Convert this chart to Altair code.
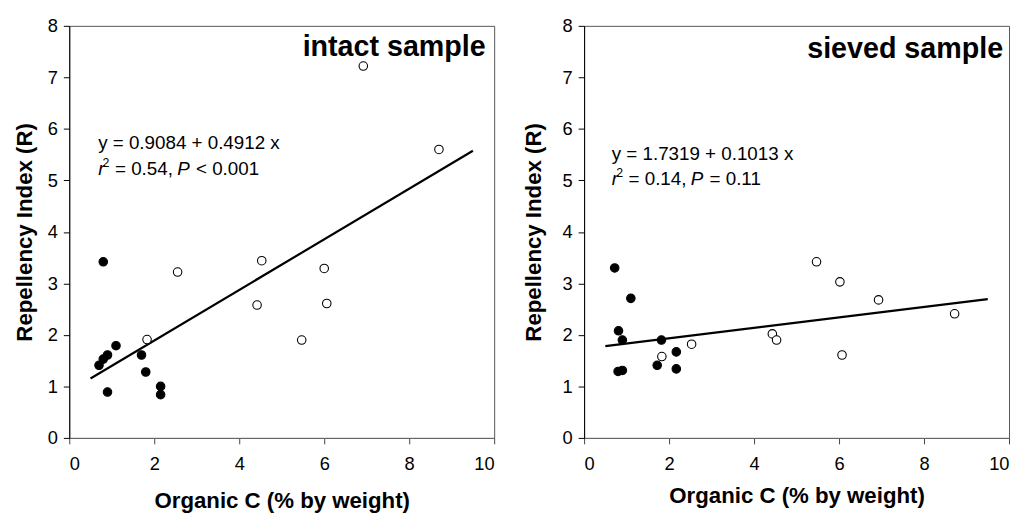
import altair as alt
import pandas as pd

# ---- data ----
left_open_x = [2.55, 4.53, 6.00, 4.42, 6.06, 5.47, 1.83, 6.92, 8.70]
left_open_y = [3.22, 3.44, 3.29, 2.58, 2.61, 1.90, 1.91, 7.22, 5.60]
left_filled_x = [0.80, 1.10, 0.90, 0.80, 0.70, 1.70, 1.80, 0.90, 2.15, 2.15]
left_filled_y = [3.42, 1.79, 1.61, 1.53, 1.41, 1.61, 1.28, 0.89, 1.00, 0.84]

right_open_x = [5.47, 6.02, 6.93, 8.72, 4.43, 4.53, 2.53, 1.83, 6.07]
right_open_y = [3.42, 3.03, 2.68, 2.41, 2.02, 1.90, 1.82, 1.58, 1.61]
right_filled_x = [0.72, 1.10, 0.81, 0.90, 1.82, 0.80, 0.90, 1.72, 2.17, 2.17]
right_filled_y = [3.30, 2.71, 2.08, 1.90, 1.90, 1.29, 1.31, 1.41, 1.67, 1.34]

left_fit = [0.9084, 0.4912]
right_fit = [1.7319, 0.1013]
fit_range = [0.5, 9.5]

x_ticks = [0, 2, 4, 6, 8, 10]
y_ticks = [0, 1, 2, 3, 4, 5, 6, 7, 8]

FONT = "Liberation Sans"
W, H = 430, 417


def panel(ox, oy, fx, fy, fit, title, eq1, r2txt, ptxt, eqx, eqy1, eqy2,
          tx, ty, ytitlepad, xtitlepad):
    pts = pd.DataFrame(
        {"x": ox + fx, "y": oy + fy,
         "type": ["open"] * len(ox) + ["filled"] * len(fx)}
    )
    a, b = fit
    line_df = pd.DataFrame({"x": fit_range, "y": [a + b * v for v in fit_range]})

    xenc = alt.X("x:Q", scale=alt.Scale(domain=[0, 10], nice=False, zero=False),
                 axis=alt.Axis(values=x_ticks, title="Organic C (% by weight)", grid=False,
                               titlePadding=xtitlepad, labelPadding=11,
                               domainColor="#666666", tickColor="#444444"))
    yenc = alt.Y("y:Q", scale=alt.Scale(domain=[0, 8], nice=False, zero=False),
                 axis=alt.Axis(values=y_ticks, title="Repellency Index (R)", grid=False,
                               titlePadding=ytitlepad, labelPadding=6,
                               domainColor="black", tickColor="black"))

    line = alt.Chart(line_df).mark_line(color="black", strokeWidth=2.2).encode(x=xenc, y=yenc)
    points = alt.Chart(pts).mark_point(filled=False, size=74, strokeWidth=1.1, opacity=1,
                                       stroke="black").encode(
        x="x:Q", y="y:Q",
        fill=alt.Fill("type:N", scale=alt.Scale(domain=["open", "filled"],
                                                 range=["white", "black"]), legend=None),
    )

    def txt(x, y, s, dx=0, dy=0, size=19, style="normal", weight="normal", align="left"):
        d = pd.DataFrame({"x": [x], "y": [y], "t": [s]})
        return alt.Chart(d).mark_text(
            font=FONT, fontSize=size, fontStyle=style, fontWeight=weight, align=align,
            baseline="alphabetic", dx=dx, dy=dy, color="black"
        ).encode(x="x:Q", y="y:Q", text="t:N")

    layers = [
        line,
        points,
        txt(tx, ty, title, size=29, weight="bold", align="right"),
        txt(eqx, eqy1, eq1),
        txt(eqx, eqy2, "r", style="italic"),
        txt(eqx, eqy2, "2", dx=4.5, dy=-8, size=12.5),
        txt(eqx, eqy2, r2txt, dx=17),
        txt(eqx, eqy2, "P", dx=80, style="italic"),
        txt(eqx, eqy2, ptxt, dx=99),
    ]
    return alt.layer(*layers).properties(width=W, height=H)


left = panel(left_open_x, left_open_y, left_filled_x, left_filled_y, left_fit,
             "intact sample", "y = 0.9084 + 0.4912 x", "= 0.54,", "< 0.001",
             0.68, 5.60, 5.10, 9.80, 7.41, ytitlepad=11, xtitlepad=17)
right = panel(right_open_x, right_open_y, right_filled_x, right_filled_y, right_fit,
              "sieved sample", "y = 1.7319 + 0.1013 x", "= 0.14,", "= 0.11",
              0.65, 5.39, 4.91, 9.86, 7.37, ytitlepad=17, xtitlepad=12)

chart = alt.hconcat(left, right, spacing=27).configure_view(
    stroke="#555555", strokeWidth=1
).configure_axis(
    labelFont=FONT, labelFontSize=18.5, labelColor="black",
    titleFont=FONT, titleFontSize=22.5, titleFontWeight="bold", titleColor="black",
    tickSize=6, domainWidth=1, tickWidth=1,
).properties(padding={"left": 5, "top": 5, "right": 0, "bottom": 5})

chart.save("out.html", embed_options={"renderer": "svg", "actions": False})
